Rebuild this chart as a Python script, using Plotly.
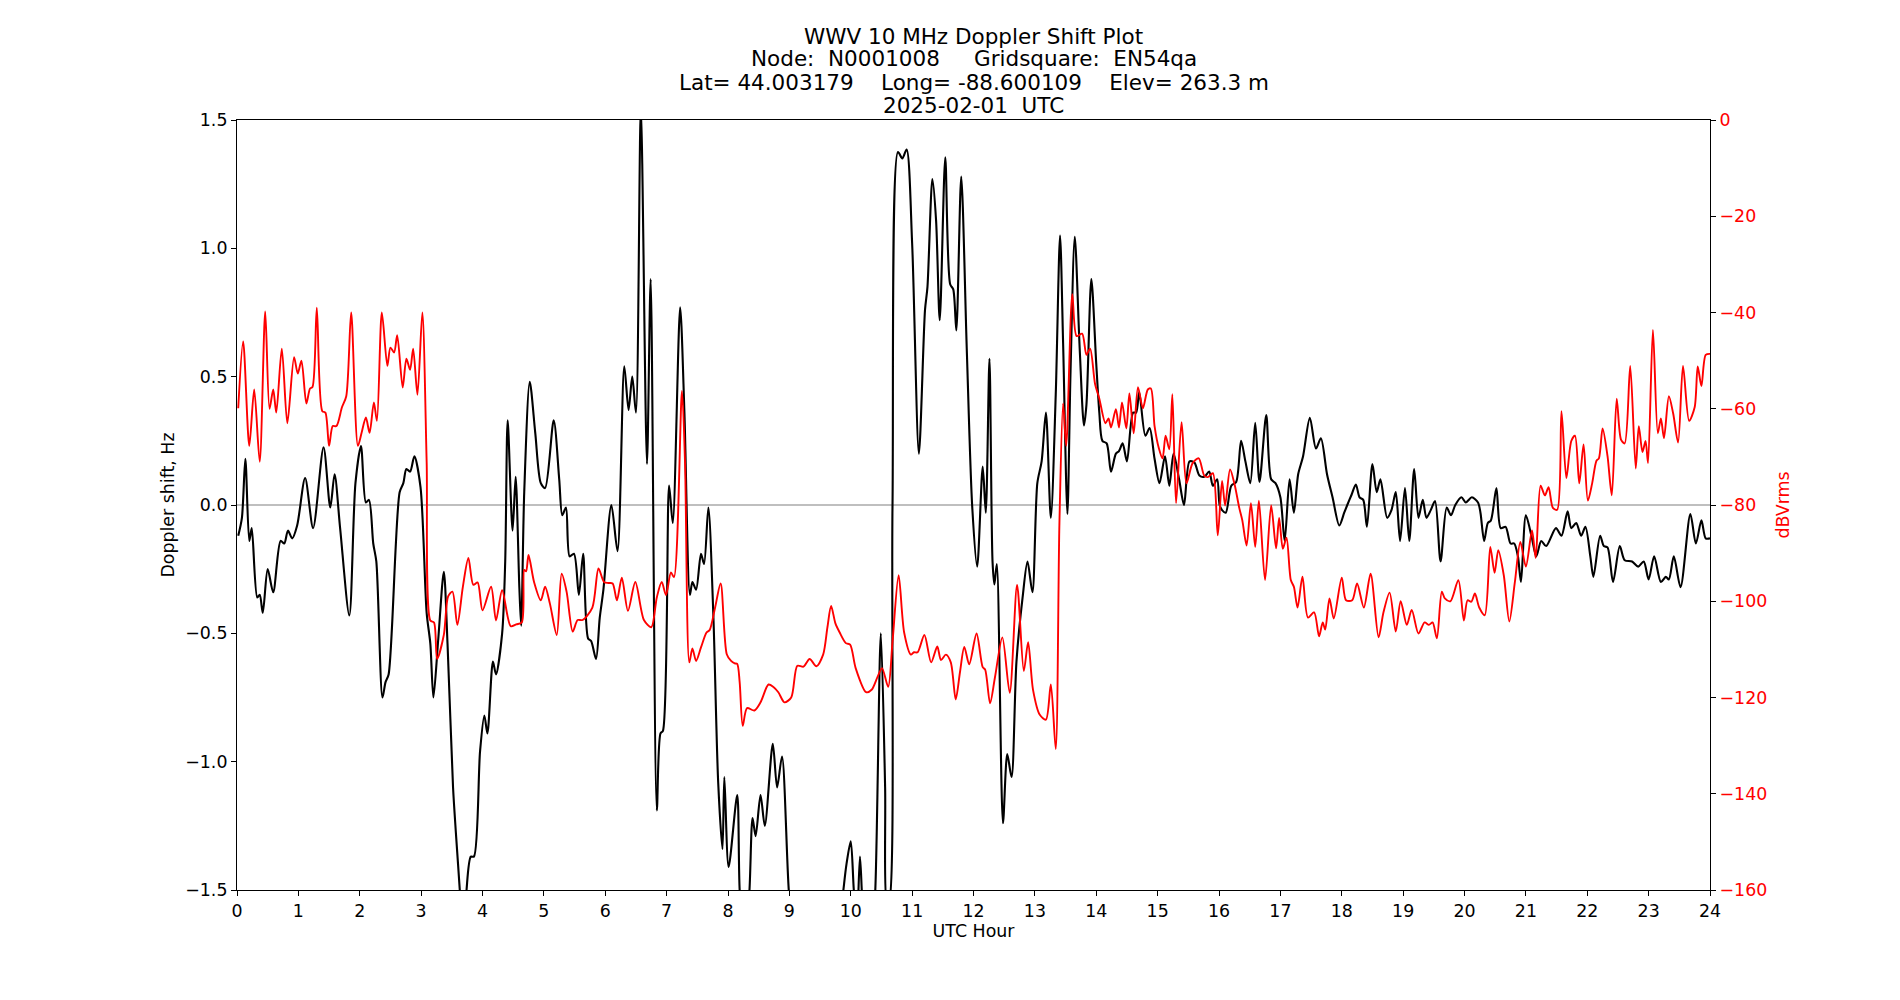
import plotly.graph_objects as go

# ---------------- data ----------------
doppler_hours = [
    0.02, 0.08, 0.136, 0.20, 0.24, 0.33, 0.37, 0.42, 0.50, 0.59, 0.71, 0.77, 0.83, 0.90, 0.98,
    1.11, 1.24, 1.41, 1.52, 1.59, 1.68, 1.83, 1.93, 2.02, 2.10, 2.15, 2.22, 2.27, 2.37, 2.42,
    2.47, 2.65, 2.71, 2.76, 2.82, 2.89, 2.99, 3.09, 3.15, 3.20, 3.28, 3.37, 3.43, 3.52, 3.57,
    3.63, 3.69, 3.74, 3.81, 3.86, 3.96, 4.03, 4.08, 4.17, 4.22, 4.32, 4.37, 4.41, 4.49, 4.54,
    4.60, 4.63, 4.68, 4.77, 4.86, 4.95, 5.02, 5.16, 5.25, 5.30, 5.36, 5.42, 5.49, 5.57, 5.64,
    5.72, 5.77, 5.85, 5.91, 5.97, 6.10, 6.20, 6.31, 6.38, 6.44, 6.50, 6.58, 6.68, 6.74, 6.84,
    6.90, 6.94, 7.04, 7.10, 7.22, 7.29, 7.38, 7.42, 7.48, 7.56, 7.61, 7.68, 7.76, 7.84, 7.91,
    7.94, 8.01, 8.15, 8.19, 8.27, 8.35, 8.40, 8.45, 8.53, 8.60, 8.73, 8.80, 8.88, 8.99, 9.10,
    9.30, 9.50, 9.70, 9.88, 9.93, 10.00, 10.05, 10.10, 10.15, 10.19, 10.30, 10.40, 10.49, 10.56,
    10.59, 10.62, 10.68, 10.77, 10.84, 10.91, 11.00, 11.11, 11.21, 11.25, 11.33, 11.39, 11.45,
    11.54, 11.62, 11.67, 11.72, 11.80, 11.89, 11.98, 12.06, 12.15, 12.20, 12.26, 12.31, 12.34,
    12.38, 12.48, 12.55, 12.62, 12.70, 12.80, 12.88, 12.96, 13.04, 13.11, 13.18, 13.26, 13.34,
    13.41, 13.46, 13.53, 13.58, 13.65, 13.73, 13.80, 13.84, 13.92, 14.00, 14.05, 14.10, 14.17,
    14.24, 14.32, 14.37, 14.43, 14.50, 14.60, 14.65, 14.70, 14.80, 14.87, 14.95, 15.03, 15.12,
    15.19, 15.26, 15.35, 15.43, 15.52, 15.60, 15.68, 15.76, 15.84, 15.90, 15.97, 16.01, 16.05,
    16.11, 16.20, 16.28, 16.36, 16.43, 16.51, 16.59, 16.66, 16.77, 16.85, 16.92, 17.00, 17.07,
    17.15, 17.22, 17.29, 17.37, 17.48, 17.58, 17.66, 17.76, 17.85, 17.96, 18.04, 18.09, 18.16,
    18.23, 18.29, 18.35, 18.41, 18.50, 18.57, 18.63, 18.74, 18.81, 18.88, 18.95, 19.03, 19.10,
    19.18, 19.25, 19.32, 19.38, 19.45, 19.52, 19.61, 19.71, 19.78, 19.85, 19.95, 20.02, 20.12,
    20.22, 20.26, 20.32, 20.38, 20.43, 20.52, 20.59, 20.67, 20.75, 20.81, 20.87, 20.92, 21.00,
    21.09, 21.17, 21.25, 21.33, 21.49, 21.58, 21.68, 21.74, 21.82, 21.90, 21.97, 22.05, 22.10,
    22.21, 22.27, 22.33, 22.42, 22.53, 22.61, 22.73, 22.83, 22.92, 23.00, 23.09, 23.20, 23.28,
    23.33, 23.41, 23.52, 23.68, 23.77, 23.86, 23.93, 24.00,
]
doppler_hz = [
    -0.12, -0.05, 0.18, -0.14, -0.09, -0.36, -0.35, -0.42, -0.25, -0.34, -0.14, -0.15, -0.10, -0.13, -0.08,
    0.105, -0.09, 0.225, -0.01, 0.12, -0.09, -0.43, 0.085, 0.23, 0.01, 0.02, -0.15, -0.22, -0.75, -0.69,
    -0.66, 0.05, 0.085, 0.14, 0.13, 0.19, 0.07, -0.42, -0.54, -0.75, -0.52, -0.26, -0.54, -1.10, -1.29,
    -1.50, -1.75, -1.50, -1.37, -1.37, -0.96, -0.82, -0.89, -0.61, -0.66, -0.50, -0.22, 0.33, -0.10, 0.11,
    -0.32, -0.47, 0.05, 0.48, 0.28, 0.085, 0.066, 0.33, 0.10, -0.04, -0.01, -0.20, -0.19, -0.35, -0.19,
    -0.52, -0.53, -0.60, -0.44, -0.33, 0.00, -0.18, 0.54, 0.37, 0.50, 0.36, 1.55, 0.16, 0.88, -1.19,
    -0.89, -0.88, 0.076, -0.07, 0.77, 0.36, -0.35, -0.30, -0.33, -0.19, -0.23, -0.01, -0.42, -1.08, -1.34,
    -1.06, -1.41, -1.13, -1.50, -1.75, -1.50, -1.22, -1.29, -1.13, -1.25, -0.93, -1.10, -0.98, -1.50, -1.80,
    -2.00, -1.90, -1.90, -1.50, -1.40, -1.31, -1.50, -1.62, -1.37, -1.55, -1.90, -1.50, -0.50, -1.10,
    -1.55, -1.55, -0.01, 1.375, 1.35, 1.385, 1.02, 0.20, 0.76, 0.85, 1.27, 1.11, 0.72,
    1.355, 0.86, 0.84, 0.68, 1.28, 0.61, -0.01, -0.24, 0.15, -0.03, 0.57, -0.22, -0.31,
    -0.23, -1.24, -0.97, -1.06, -0.61, -0.36, -0.22, -0.34, 0.085, 0.17, 0.36, -0.05, 0.43,
    1.05, 0.63, -0.035, 0.51, 1.045, 0.61, 0.31, 0.39, 0.88, 0.55, 0.36, 0.25, 0.24,
    0.13, 0.20, 0.21, 0.24, 0.17, 0.36, 0.36, 0.44, 0.27, 0.30, 0.18, 0.085, 0.19,
    0.075, 0.20, 0.10, 0.00, 0.17, 0.165, 0.115, 0.11, 0.13, 0.075, 0.10, 0.00, -0.02,
    -0.03, 0.075, 0.09, 0.25, 0.17, 0.085, 0.32, 0.09, 0.35, 0.10, 0.085, 0.03, -0.14,
    0.10, -0.03, 0.12, 0.19, 0.34, 0.22, 0.26, 0.12, 0.03, -0.08, -0.03, 0.00, 0.04,
    0.08, 0.03, 0.02, -0.085, 0.16, 0.05, 0.10, -0.05, -0.02, 0.05, -0.14, 0.066, -0.14,
    0.14, -0.05, 0.02, -0.05, -0.02, 0.015, -0.22, -0.01, -0.04, 0.00, 0.03, 0.01, 0.03,
    0.01, -0.03, -0.14, -0.07, -0.06, 0.066, -0.09, -0.085, -0.15, -0.15, -0.20, -0.30, -0.04,
    -0.12, -0.20, -0.14, -0.16, -0.09, -0.12, -0.025, -0.09, -0.07, -0.12, -0.085, -0.20, -0.28,
    -0.12, -0.16, -0.165, -0.30, -0.16, -0.215, -0.22, -0.24, -0.22, -0.29, -0.20, -0.30, -0.28,
    -0.29, -0.20, -0.32, -0.035, -0.15, -0.06, -0.13, -0.13,
]

signal_hours = [
    0.02, 0.10, 0.20, 0.28, 0.37, 0.46, 0.53, 0.59, 0.64, 0.73, 0.82, 0.93, 0.99, 1.05, 1.13,
    1.19, 1.23, 1.30, 1.39, 1.44, 1.50, 1.56, 1.62, 1.71, 1.78, 1.86, 1.97, 2.03, 2.10, 2.16,
    2.23, 2.28, 2.36, 2.45, 2.50, 2.56, 2.61, 2.70, 2.76, 2.82, 2.87, 2.94, 3.02, 3.09, 3.15,
    3.21, 3.26, 3.37, 3.44, 3.51, 3.59, 3.68, 3.77, 3.85, 3.92, 4.00, 4.14, 4.22, 4.32, 4.46,
    4.55, 4.64, 4.68, 4.71, 4.75, 4.84, 4.95, 5.02, 5.10, 5.21, 5.29, 5.37, 5.47, 5.55, 5.63,
    5.79, 5.89, 5.98, 6.05, 6.12, 6.19, 6.27, 6.37, 6.49, 6.63, 6.75, 6.84, 6.92, 6.99, 7.07,
    7.12, 7.25, 7.30, 7.37, 7.42, 7.48, 7.56, 7.65, 7.70, 7.79, 7.88, 7.98, 8.05, 8.11, 8.15,
    8.19, 8.24, 8.31, 8.43, 8.53, 8.66, 8.74, 8.82, 8.92, 9.03, 9.13, 9.23, 9.33, 9.44, 9.55,
    9.62, 9.68, 9.75, 9.82, 9.92, 9.99, 10.08, 10.25, 10.34, 10.44, 10.51, 10.61, 10.68, 10.78,
    10.87, 10.98, 11.03, 11.09, 11.20, 11.31, 11.41, 11.47, 11.55, 11.63, 11.71, 11.78, 11.85,
    11.93, 12.05, 12.15, 12.19, 12.27, 12.35, 12.47, 12.59, 12.71, 12.82, 12.89, 12.97, 13.08,
    13.18, 13.26, 13.34, 13.40, 13.46, 13.51, 13.61, 13.68, 13.77, 13.84, 13.90, 13.98, 14.05,
    14.15, 14.20, 14.24, 14.32, 14.37, 14.42, 14.49, 14.54, 14.61, 14.68, 14.76, 14.84, 14.89,
    14.95, 15.02, 15.08, 15.13, 15.19, 15.24, 15.30, 15.39, 15.47, 15.57, 15.67, 15.76, 15.82,
    15.90, 15.98, 16.05, 16.10, 16.18, 16.25, 16.33, 16.38, 16.45, 16.52, 16.59, 16.65, 16.75,
    16.85, 16.93, 16.98, 17.04, 17.10, 17.17, 17.22, 17.28, 17.36, 17.45, 17.55, 17.63, 17.69,
    17.73, 17.80, 17.87, 18.00, 18.07, 18.17, 18.25, 18.36, 18.47, 18.60, 18.68, 18.78, 18.88,
    18.96, 19.06, 19.14, 19.25, 19.35, 19.42, 19.48, 19.55, 19.63, 19.68, 19.77, 19.90, 19.99,
    20.05, 20.11, 20.17, 20.24, 20.33, 20.42, 20.49, 20.55, 20.64, 20.73, 20.82, 20.91, 21.00,
    21.10, 21.16, 21.24, 21.31, 21.37, 21.44, 21.51, 21.58, 21.66, 21.74, 21.80, 21.87, 21.94,
    22.01, 22.08, 22.15, 22.19, 22.25, 22.33, 22.40, 22.48, 22.55, 22.61, 22.70, 22.79, 22.84,
    22.90, 22.95, 22.99, 23.07, 23.15, 23.20, 23.25, 23.33, 23.40, 23.48, 23.56, 23.66, 23.75,
    23.80, 23.86, 23.93, 24.00,
]
signal_db = [
    -59.9, -46.0, -67.7, -56.0, -71.0, -39.8, -60.0, -56.0, -60.8, -47.5, -63.0, -49.3, -52.7, -50.0, -58.9,
    -55.8, -55.5, -39.0, -60.5, -60.8, -67.7, -63.6, -63.6, -59.7, -57.4, -40.0, -67.7, -65.0, -61.8, -65.0,
    -58.7, -62.5, -40.0, -51.1, -47.3, -48.3, -44.7, -55.6, -49.6, -51.9, -47.5, -57.1, -40.0, -71.0, -104.0,
    -104.4, -112.0, -107.0, -99.0, -98.0, -104.9, -97.0, -91.0, -96.6, -96.1, -101.9, -97.0, -104.0, -97.7, -105.2,
    -104.8, -104.4, -93.5, -93.8, -90.4, -96.0, -99.8, -97.0, -100.6, -107.0, -94.3, -98.0, -106.3, -103.9, -103.9,
    -101.3, -93.2, -96.0, -96.2, -96.3, -99.8, -95.1, -102.0, -96.0, -103.9, -105.4, -99.2, -96.0, -98.7, -94.0,
    -95.0, -56.3, -71.3, -112.7, -109.8, -112.4, -109.6, -106.5, -106.0, -101.3, -96.3, -111.0, -112.4, -112.9, -113.0,
    -116.8, -125.9, -122.2, -122.7, -121.0, -117.3, -117.8, -118.9, -121.0, -120.0, -113.4, -113.6, -112.0, -113.5, -111.1,
    -105.4, -101.0, -104.6, -106.5, -108.7, -109.0, -113.9, -118.9, -118.4, -115.6, -113.9, -117.8, -108.5, -94.6,
    -106.5, -111.1, -110.6, -110.6, -107.0, -112.7, -109.4, -112.2, -111.1, -112.7, -120.4, -114.7, -109.5,
    -113.1, -106.7, -113.7, -114.2, -121.2, -115.8, -107.5, -119.0, -96.6, -114.5, -108.5, -118.4, -123.6,
    -124.6, -117.3, -130.7, -83.7, -58.9, -67.7, -36.2, -44.9, -44.4, -48.8, -47.5, -54.8, -57.9,
    -63.0, -62.0, -63.9, -60.1, -63.9, -58.7, -64.1, -56.8, -65.1, -55.5, -59.9, -56.0, -55.8,
    -63.6, -68.2, -70.3, -65.6, -68.4, -57.0, -79.6, -62.8, -75.5, -71.3, -70.3, -73.9, -74.2,
    -73.4, -86.3, -75.0, -80.1, -72.6, -75.5, -80.6, -83.2, -88.4, -79.6, -88.7, -79.1, -95.6,
    -80.1, -89.0, -82.7, -89.1, -86.8, -95.6, -97.0, -101.3, -94.9, -103.4, -102.3, -107.3, -104.4,
    -105.9, -99.4, -103.6, -95.1, -99.8, -99.8, -96.3, -101.3, -94.3, -107.5, -102.3, -98.2, -106.3,
    -100.0, -104.9, -101.8, -106.7, -104.4, -104.9, -104.4, -107.7, -98.0, -99.4, -100.0, -95.6, -104.0,
    -99.8, -100.1, -98.4, -101.3, -102.9, -88.7, -94.1, -89.4, -94.6, -104.2, -96.1, -87.7, -92.8,
    -85.3, -91.0, -76.0, -78.0, -76.3, -80.6, -81.0, -60.5, -74.4, -66.7, -65.6, -75.5, -67.4,
    -79.1, -75.5, -70.8, -70.3, -64.1, -69.8, -78.0, -57.9, -66.4, -67.2, -51.1, -72.4, -63.6,
    -69.0, -66.7, -71.3, -43.6, -65.1, -62.0, -66.1, -57.4, -61.0, -67.0, -51.1, -62.5, -59.7,
    -51.2, -55.3, -48.8, -48.6,
]

x_ticks = list(range(0, 25))
left_ticks = [-1.5, -1.0, -0.5, 0.0, 0.5, 1.0, 1.5]
right_ticks = [-160, -140, -120, -100, -80, -60, -40, -20, 0]

title_lines = [
    "WWV 10 MHz Doppler Shift Plot",
    "Node:  N0001008     Gridsquare:  EN54qa",
    "Lat= 44.003179    Long= -88.600109    Elev= 263.3 m",
    "2025-02-01  UTC",
]

# ---------------- figure ----------------
FONT = "DejaVu Sans"
NBSP = "\u00a0"
TITLE_SIZE = 21.5
LABEL_SIZE = 17.4
TICK_SIZE = 17.4

# layout geometry (pixels)
W, H = 1900, 1000
M_L, M_R, M_T, M_B = 237, 190, 120, 110
PLOT_H = H - M_T - M_B

fig = go.Figure()
fig.add_trace(go.Scatter(
    x=doppler_hours, y=doppler_hz, mode="lines", name="Doppler shift",
    line=dict(color="black", width=2.1, shape="spline", smoothing=0.8),
    yaxis="y", showlegend=False,
))
fig.add_trace(go.Scatter(
    x=signal_hours, y=signal_db, mode="lines", name="dBVrms",
    line=dict(color="#ff0000", width=1.9, shape="spline", smoothing=0.8),
    yaxis="y2", showlegend=False,
))

fig.add_shape(type="line", xref="paper", x0=0, x1=1, yref="y", y0=0, y1=0,
              line=dict(color="#808080", width=1.2), layer="below")

# title: first line as the layout title, following lines as centred annotations
line_centres_px = [36, 59, 82, 105]
for txt, ypx in zip(title_lines[1:], line_centres_px[1:]):
    fig.add_annotation(
        text=txt.replace(" ", NBSP), xref="paper", x=0.5, xanchor="center",
        yref="paper", y=(H - M_B - ypx) / PLOT_H, yanchor="middle",
        showarrow=False, font=dict(family=FONT, size=TITLE_SIZE, color="black"),
    )

fig.update_layout(
    width=W, height=H,
    margin=dict(l=M_L, r=M_R, t=M_T, b=M_B),
    paper_bgcolor="white", plot_bgcolor="white",
    font=dict(family=FONT, color="black", size=TICK_SIZE),
    title=dict(text=title_lines[0].replace(" ", NBSP), x=0.5, xref="paper", xanchor="center",
               y=1 - line_centres_px[0] / H, yref="container", yanchor="middle",
               font=dict(family=FONT, size=TITLE_SIZE, color="black")),
    xaxis=dict(
        range=[0, 24], tickmode="array", tickvals=x_ticks,
        showgrid=False, zeroline=False,
        showline=True, linecolor="black", linewidth=1.1, mirror=True,
        ticks="outside", ticklen=5, tickwidth=1.1, tickcolor="black",
        tickfont=dict(size=TICK_SIZE, color="black"),
        title=dict(text="UTC Hour", font=dict(size=LABEL_SIZE), standoff=4),
    ),
    yaxis=dict(
        range=[-1.5, 1.5], tickmode="array", tickvals=left_ticks, tickformat=".1f",
        showgrid=False, zeroline=False,
        showline=True, linecolor="black", linewidth=1.1, mirror=True,
        ticks="outside", ticklen=5, tickwidth=1.1, tickcolor="black",
        tickfont=dict(size=TICK_SIZE, color="black"),
        title=dict(text="Doppler shift, Hz", font=dict(size=LABEL_SIZE), standoff=6),
    ),
    yaxis2=dict(
        range=[-160, 0], tickmode="array", tickvals=right_ticks,
        overlaying="y", side="right",
        showgrid=False, zeroline=False,
        showline=True, linecolor="black", linewidth=1.1,
        ticks="outside", ticklen=5, tickwidth=1.1, tickcolor="black",
        tickfont=dict(size=TICK_SIZE, color="#ff0000"),
        title=dict(text="dBVrms", font=dict(size=LABEL_SIZE, color="#ff0000"), standoff=10),
    ),
)

fig.write_html("out.html")
